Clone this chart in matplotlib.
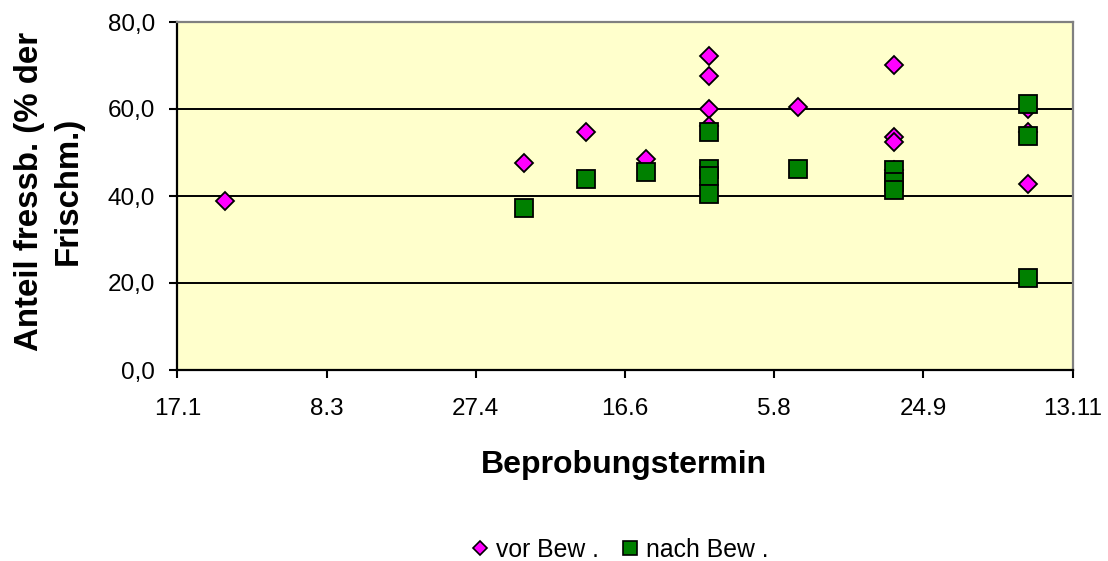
import datetime as dt
import matplotlib
matplotlib.use("Agg")
import matplotlib.pyplot as plt
import matplotlib.dates as mdates
from matplotlib.ticker import FixedLocator, FuncFormatter
from matplotlib.lines import Line2D

plt.rcParams["font.family"] = ["Liberation Sans", "DejaVu Sans"]

YEAR = 2001

# Sampling dates (day.month) and share of edible fresh mass (%)
vor_dates = ["2.2", "13.5", "3.6", "23.6", "14.7", "14.7", "14.7", "14.7",
             "13.8", "14.9", "14.9", "14.9", "14.9", "29.10", "29.10", "29.10"]
vor_values = [38.9, 47.5, 54.8, 48.6, 72.1, 67.5, 60.0, 56.2,
              60.5, 70.2, 53.5, 52.5, 46.0, 59.9, 54.8, 42.8]

nach_dates = ["13.5", "3.6", "23.6", "14.7", "14.7", "14.7", "14.7",
              "13.8", "14.9", "14.9", "14.9", "29.10", "29.10", "29.10"]
nach_values = [37.2, 43.9, 45.6, 54.8, 46.2, 44.5, 40.4,
               46.2, 45.9, 43.2, 41.3, 61.1, 53.7, 21.1]

x_ticklabels = ["17.1", "8.3", "27.4", "16.6", "5.8", "24.9", "13.11"]
y_ticks = [0, 20, 40, 60, 80]

series_labels = ["vor Bew .", "nach Bew ."]


def to_num(s):
    d, m = s.split(".")
    return mdates.date2num(dt.date(YEAR, int(m), int(d)))


W, H = 1108, 561
fig = plt.figure(figsize=(W / 100, H / 100), dpi=100)
ax = fig.add_axes([177.3 / W, 1 - 370 / H, (1072.7 - 177.3) / W, (370 - 22) / H])
ax.set_facecolor("#FFFFCC")

xv = [to_num(s) for s in vor_dates]
xn = [to_num(s) for s in nach_dates]
ax.plot(xv, vor_values, linestyle="none", marker="D", ms=9.6,
        mfc="#FF00FF", mec="black", mew=1.3, zorder=3, clip_on=False)
ax.plot(xn, nach_values, linestyle="none", marker="s", ms=12.5,
        mfc="#008000", mec="black", mew=1.3, zorder=4, clip_on=False)

xt = [to_num(s) for s in x_ticklabels]
ax.set_xlim(xt[0], xt[-1])
ax.xaxis.set_major_locator(FixedLocator(xt))
ax.set_xticklabels(x_ticklabels)

ax.set_ylim(y_ticks[0], y_ticks[-1])
ax.yaxis.set_major_locator(FixedLocator(y_ticks))
ax.yaxis.set_major_formatter(FuncFormatter(lambda v, p: f"{v:.1f}".replace(".", ",")))

ax.grid(axis="y", color="black", linewidth=1.4, zorder=1)
ax.set_axisbelow(True)

for side in ("left", "bottom"):
    ax.spines[side].set_color("black")
    ax.spines[side].set_linewidth(1.6)
for side in ("top", "right"):
    ax.spines[side].set_color("#808080")
    ax.spines[side].set_linewidth(1.6)

ax.tick_params(axis="x", direction="out", length=6, width=1.5, pad=14.5,
               labelsize=17.5, colors="black")
ax.tick_params(axis="y", direction="out", length=6, width=1.5, pad=10,
               labelsize=17.5, colors="black")

fig.text(49 / W, 1 - 191 / H, "Anteil fressb. (% der\nFrischm.)",
         rotation=90, ha="center", va="center", multialignment="center",
         fontsize=23.8, fontweight="bold", linespacing=1.3)
fig.text(623.5 / W, 1 - 473 / H, "Beprobungstermin", ha="center",
         va="baseline", fontsize=23, fontweight="bold")

handles = [
    Line2D([], [], linestyle="none", marker="D", ms=7.6, mfc="#FF00FF",
           mec="black", mew=1.2),
    Line2D([], [], linestyle="none", marker="s", ms=9.5, mfc="#008000",
           mec="black", mew=1.2),
]
fig.legend(handles, series_labels, loc="center", ncol=2,
           bbox_to_anchor=(619 / W, 1 - 550 / H), frameon=False,
           fontsize=17.8, handlelength=0.8, handletextpad=0.25,
           columnspacing=0.85, borderpad=0, borderaxespad=0)

fig.savefig("out.png", dpi=100)
